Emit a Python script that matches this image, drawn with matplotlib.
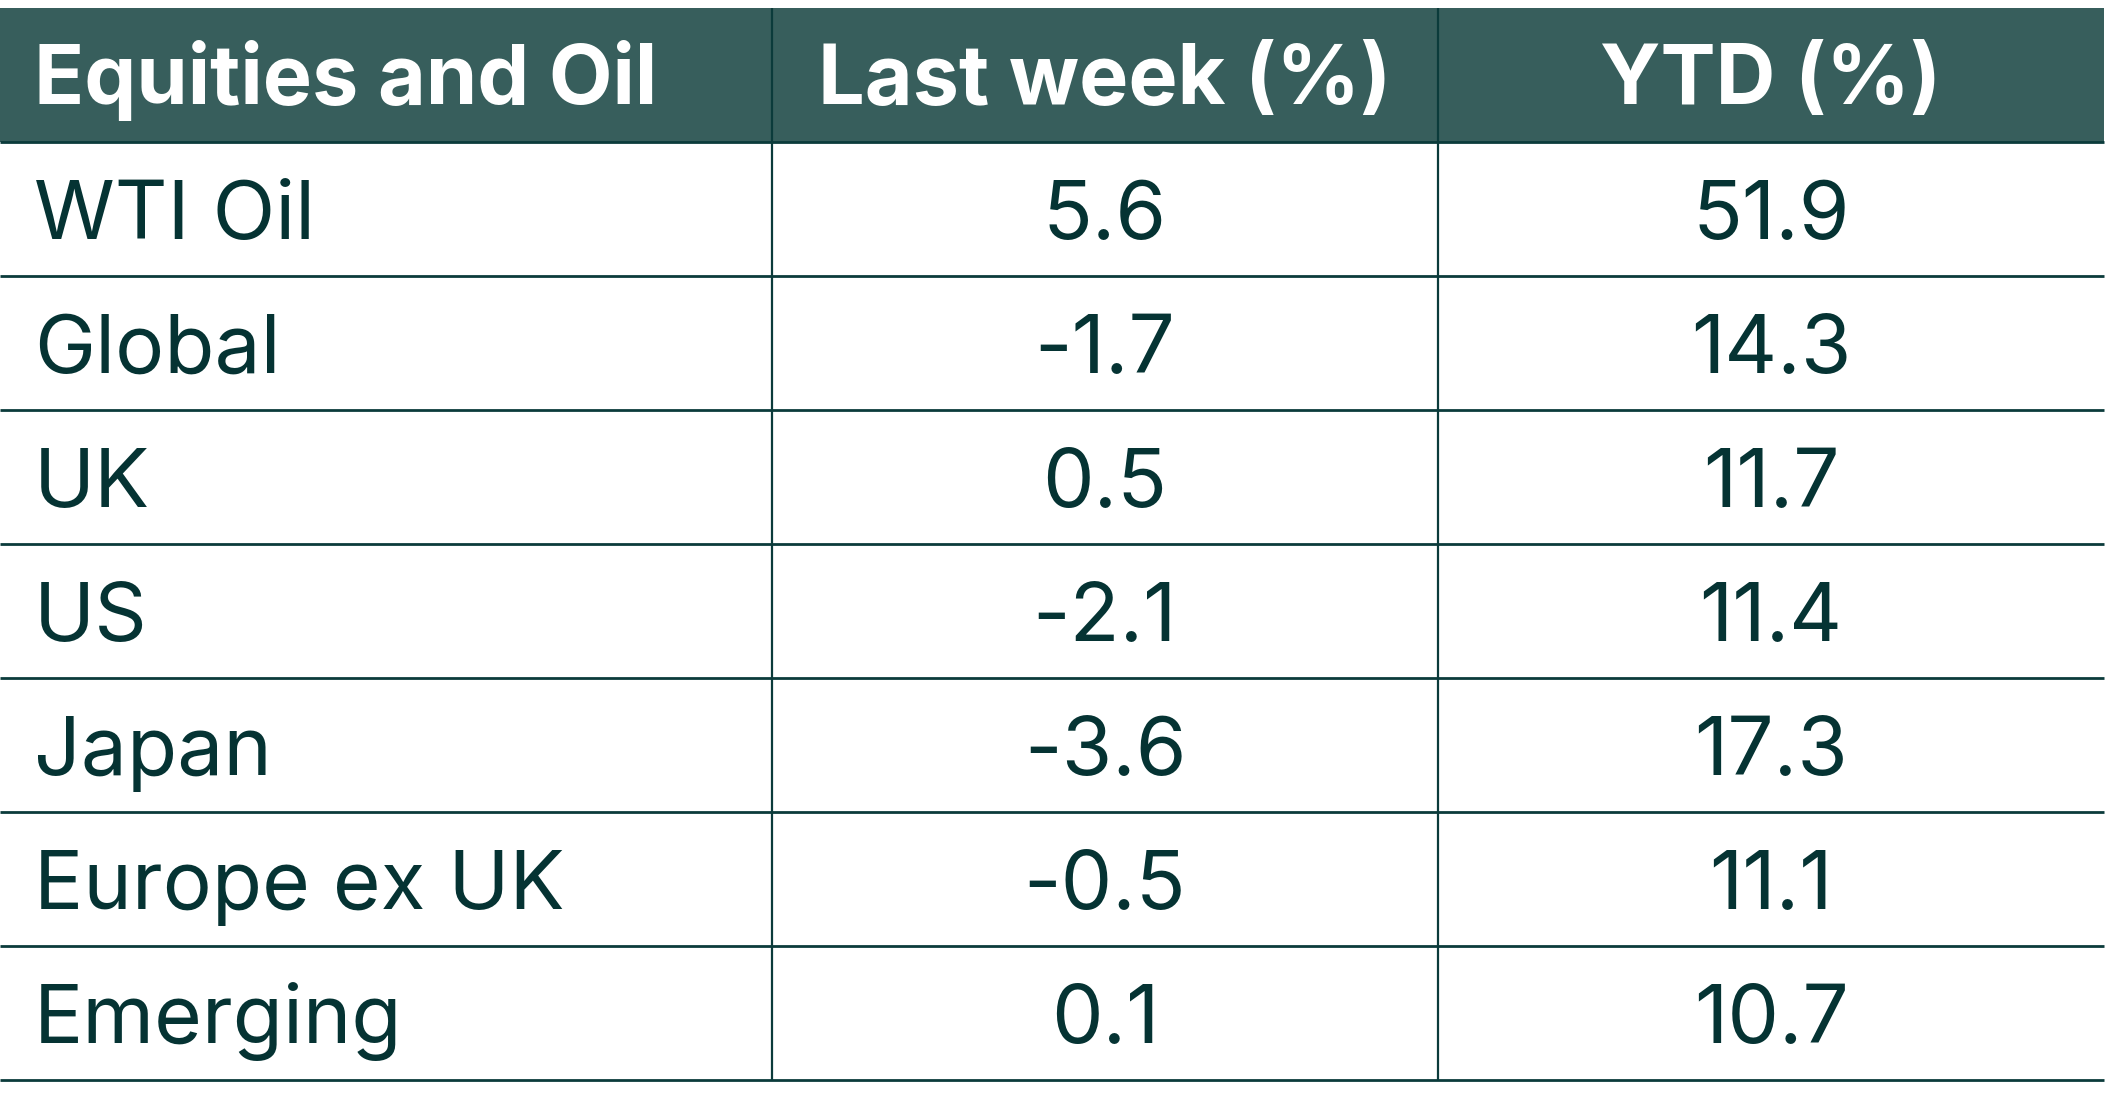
import matplotlib
matplotlib.use("Agg")
import matplotlib.pyplot as plt
import matplotlib.patches as mpatches

# table data
headers = ["Equities and Oil", "Last week (%)", "YTD (%)"]
markets = ["WTI Oil", "Global", "UK", "US", "Japan", "Europe ex UK", "Emerging"]
last_week = [5.6, -1.7, 0.5, -2.1, -3.6, -0.5, 0.1]
ytd = [51.9, 14.3, 11.7, 11.4, 17.3, 11.1, 10.7]

# colours
head_bg = "#375e5c"
text_col = "#053333"
line_col = "#0b3b3b"

W, H = 2106, 1114
top = 8
row_h = 134
col_x = [0, 772, 1438, 2104]

plt.rcParams['font.family'] = ['Inter', 'DejaVu Sans']

fig = plt.figure(figsize=(W / 100, H / 100), dpi=100)
ax = fig.add_axes([0, 0, 1, 1])
ax.set_xlim(0, W)
ax.set_ylim(H, 0)
ax.axis("off")

n_rows = len(markets)
bottom = top + row_h * (n_rows + 1)

# header band
ax.add_patch(mpatches.Rectangle((col_x[0], top), col_x[-1] - col_x[0], row_h,
                                facecolor=head_bg, edgecolor="none"))

# header text
for j, h in enumerate(headers):
    if j == 0:
        x, ha = 34, "left"
    else:
        x, ha = (col_x[j] + col_x[j + 1]) / 2, "center"
    ax.text(x, top + 96, h, ha=ha, va="baseline", color="white",
            fontsize=59.5, fontweight="bold")

# body rows
for i in range(n_rows):
    y0 = top + row_h * (i + 1)
    base = y0 + 97
    ax.text(34, base, markets[i], ha="left", va="baseline", color=text_col, fontsize=59)
    ax.text((col_x[1] + col_x[2]) / 2, base, f"{last_week[i]:.1f}", ha="center",
            va="baseline", color=text_col, fontsize=59)
    ax.text((col_x[2] + col_x[3]) / 2, base, f"{ytd[i]:.1f}", ha="center",
            va="baseline", color=text_col, fontsize=59)

# grid lines
for i in range(1, n_rows + 2):
    y = top + row_h * i
    ax.plot([col_x[0], col_x[-1]], [y, y], color=line_col, lw=2, solid_capstyle="butt")
for x in col_x[1:3]:
    ax.plot([x, x], [top, bottom], color=line_col, lw=1.6, solid_capstyle="butt")

fig.savefig("out.png", dpi=100, facecolor="white")
